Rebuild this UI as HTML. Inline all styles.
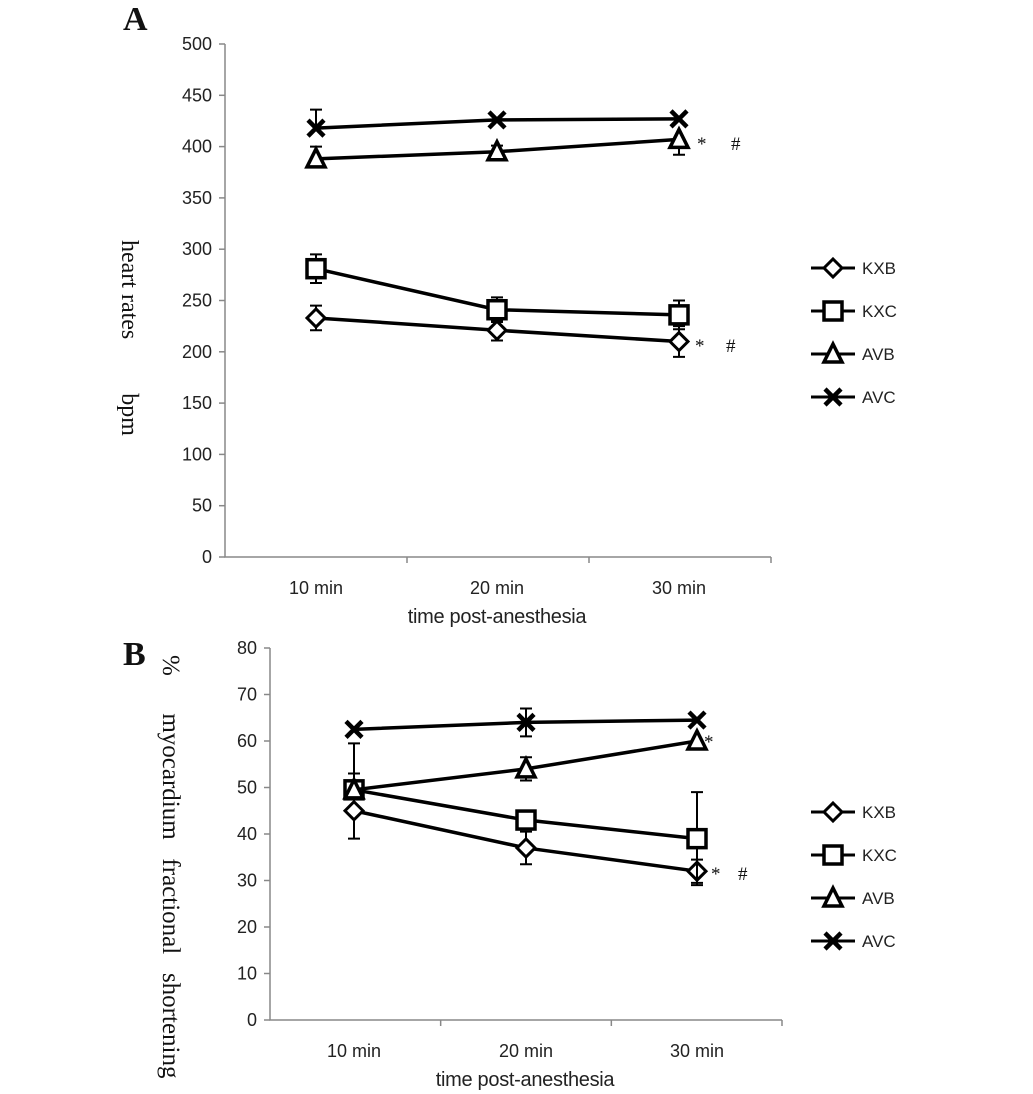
<!DOCTYPE html>
<html><head><meta charset="utf-8"><style>
body{margin:0;background:#fff}
svg{display:block}
</style></head><body>
<svg id="chart" width="1033" height="1094"></svg>
<script>
const categories=["10 min","20 min","30 min"];
const seriesNames=["KXB","KXC","AVB","AVC"];
const markers=["diamond","square","triangle","cross"];
const aKXB=[233,221,210], aKXBerr=[12,10,15];
const aKXC=[281,241,236], aKXCerr=[14,12,14];
const aAVB=[388,395,407], aAVBerr=[12,6,15];
const aAVC=[418,426,427], aAVCerr=[18,0,0];
const bKXB=[45,37,32], bKXBerr=[6,3.5,2.5];
const bKXC=[49.5,43,39], bKXCerr=[3.5,0,10];
const bAVB=[49.5,54,60], bAVBerr=[10,2.5,0];
const bAVC=[62.5,64,64.5], bAVCerr=[0,3,0];
const aTicks=[0,50,100,150,200,250,300,350,400,450,500];
const bTicks=[0,10,20,30,40,50,60,70,80];

const NS="http://www.w3.org/2000/svg";
const svg=document.getElementById('chart');
const SANS='font-family:"Liberation Sans",sans-serif;fill:#222;';
const SERIF='font-family:"Liberation Serif",serif;fill:#111;';
function el(tag,attrs,parent){const e=document.createElementNS(NS,tag);for(const k in attrs)e.setAttribute(k,attrs[k]);(parent||svg).appendChild(e);return e;}
function txt(s,attrs,parent){const e=el('text',attrs,parent);e.textContent=s;return e;}
function marker(type,x,y,g){
  if(type==="diamond"){const m=el('polygon',{points:`${x},${y-9} ${x+9},${y} ${x},${y+9} ${x-9},${y}`,fill:'#fff',stroke:'#000','stroke-width':3},g);}
  else if(type==="square"){const m=el('rect',{x:x-9,y:y-9,width:18,height:18,fill:'#fff',stroke:'#000','stroke-width':3.5},g);}
  else if(type==="triangle"){const m=el('polygon',{points:`${x},${y-10} ${x+9},${y+8} ${x-9},${y+8}`,fill:'#fff',stroke:'#000','stroke-width':3.5},g);}
  else{const m=el('path',{d:`M${x-8},${y-8}L${x+8},${y+8}M${x+8},${y-8}L${x-8},${y+8}`,stroke:'#000','stroke-width':4.5},g);}
}
function panel(cfg){
  const g=el('g',{});
  
  
  const ys=v=>cfg.y0-(v-cfg.ticks[0])/(cfg.ticks[cfg.ticks.length-1]-cfg.ticks[0])*(cfg.y0-cfg.y1);
  const xs=i=>cfg.xc[i];
  const ax=el('path',{d:`M${cfg.ax},${cfg.y1}V${cfg.y0}H${cfg.axr}`,stroke:'#888','stroke-width':1.5,fill:'none'},g);
  
  cfg.ticks.forEach(t=>{
    el('line',{x1:cfg.ax-6,x2:cfg.ax,y1:ys(t),y2:ys(t),stroke:'#888','stroke-width':1.5},g);
    const l=txt(String(t),{x:cfg.ax-13,y:ys(t)+6,'text-anchor':'end',style:SANS+'font-size:18px'},g);
    
  });
  const step=(cfg.axr-cfg.ax)/3;
  for(let i=1;i<=3;i++)el('line',{x1:cfg.ax+step*i,x2:cfg.ax+step*i,y1:cfg.y0,y2:cfg.y0+6,stroke:'#888','stroke-width':1.5},g);
  categories.forEach((c,i)=>{const l=txt(c,{x:xs(i),y:cfg.y0+37,'text-anchor':'middle',style:SANS+'font-size:18px'},g);});
  const xt=txt('time post-anesthesia',{x:(cfg.ax+cfg.axr)/2-1,y:cfg.y0+66,'text-anchor':'middle',style:SANS+'font-size:20px;letter-spacing:-0.3px'},g);
  
  cfg.series.forEach((s,si)=>{
    const pts=s.v.map((v,i)=>[xs(i),ys(v)]);
    const ln=el('polyline',{points:pts.map(p=>p.join(',')).join(' '),fill:'none',stroke:'#000','stroke-width':3.5},g);
    
    s.v.forEach((v,i)=>{
      const e=s.e[i];
      if(e>0){const dir=s.dir?s.dir[i]:[1,-1];
        dir.forEach(d=>{const ye=ys(v+d*e);el('path',{d:`M${xs(i)},${ys(v)}V${ye}M${xs(i)-6},${ye}H${xs(i)+6}`,stroke:'#000','stroke-width':2},g);});}
    });
    pts.forEach(p=>marker(markers[si],p[0],p[1],g));
  });
  cfg.annot.forEach(a=>{const t=txt(a[0],{x:a[1],y:a[2],style:SERIF+'font-size:19px'},g);});
  seriesNames.forEach((n,i)=>{
    const ly=cfg.legY+i*43;
    const lg=el('g',{},g);
    
    el('line',{x1:811,x2:855,y1:ly,y2:ly,stroke:'#000','stroke-width':3},lg);
    marker(markers[i],833,ly,lg);
    txt(n,{x:862,y:ly+6,style:SANS+'font-size:17px'},lg);
  });
  const L=txt(cfg.letter,{x:123,y:cfg.letterY,style:SERIF+'font-size:34px;font-weight:bold'},g);
  
  const yt=txt(cfg.ytitle,{transform:`translate(${cfg.ytx},${cfg.yty}) rotate(90)`,style:SERIF+'font-size:'+cfg.yfs+'px;white-space:pre'},g);
  
}
panel({name:'panel-a-heart-rate',ticks:aTicks,y0:557,y1:44,ax:225,axr:771,xc:[316,497,679],legY:268,letter:'A',letterY:30,
  ytitle:'heart rates         bpm',ytx:122,yty:240,yfs:24,
  series:[{v:aKXB,e:aKXBerr},{v:aKXC,e:aKXCerr},{v:aAVB,e:aAVBerr,dir:[[1],[1],[-1]]},{v:aAVC,e:aAVCerr,dir:[[1],[1],[1]]}],
  annot:[['*',697,150],['#',731,150],['*',695,352],['#',726,352]]});
panel({name:'panel-b-fractional-shortening',ticks:bTicks,y0:1020,y1:648,ax:270,axr:782,xc:[354,526,697],legY:812,letter:'B',letterY:665,
  ytitle:'%      myocardium   fractional   shortening',ytx:163,yty:655,yfs:25,
  series:[{v:bKXB,e:bKXBerr},{v:bKXC,e:bKXCerr,dir:[[1],[1],[1,-1]]},{v:bAVB,e:bAVBerr,dir:[[1],[1,-1],[1]]},{v:bAVC,e:bAVCerr}],
  annot:[['*',704,748],['*',711,880],['#',738,880]]});
</script>
</body></html>
